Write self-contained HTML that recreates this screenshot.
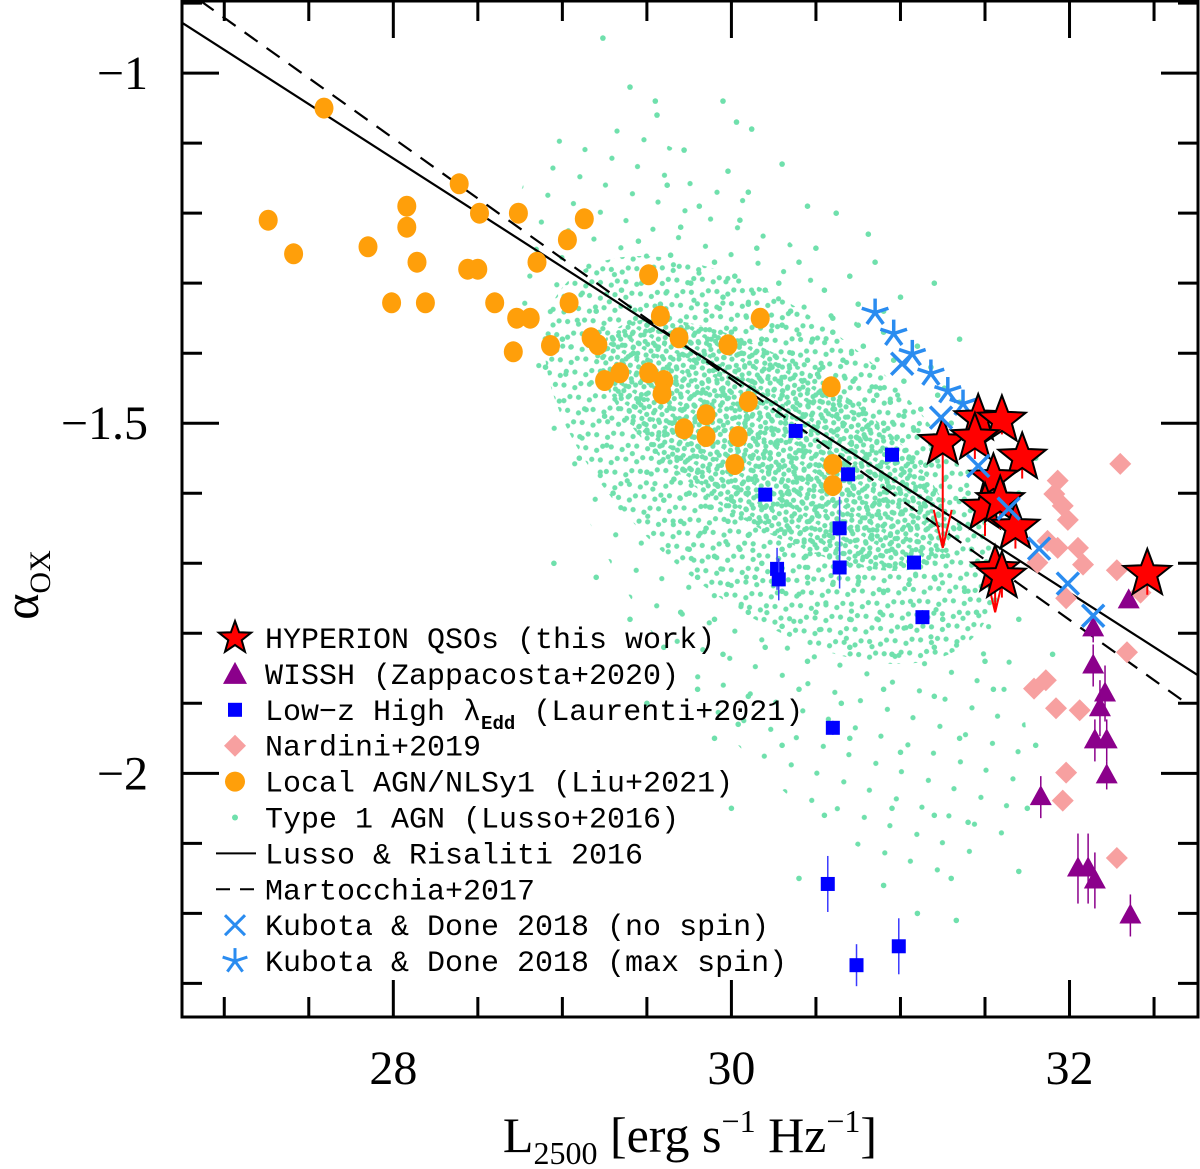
<!DOCTYPE html>
<html><head><meta charset="utf-8"><style>
html,body{margin:0;padding:0;background:#fff;}
svg{display:block;}
text{font-family:"Liberation Serif",serif;fill:#000;}
.leg{font-family:"Liberation Mono",monospace;font-size:30px;}
</style></head><body>
<svg id="chart" width="1200" height="1169" viewBox="0 0 1200 1169" xmlns="http://www.w3.org/2000/svg">
<defs>
<pattern id="densePat" patternUnits="userSpaceOnUse" width="15" height="14">
<circle cx="3" cy="3" r="2.6" fill="#6fe0ac"/><circle cx="10" cy="6" r="2.6" fill="#6fe0ac"/><circle cx="5" cy="11" r="2.6" fill="#6fe0ac"/><circle cx="13" cy="12.5" r="2.6" fill="#6fe0ac"/>
</pattern>
<pattern id="midPat" patternUnits="userSpaceOnUse" width="19" height="17">
<circle cx="4" cy="3" r="2.6" fill="#6fe0ac"/><circle cx="13" cy="8" r="2.6" fill="#6fe0ac"/><circle cx="6" cy="13" r="2.6" fill="#6fe0ac"/>
</pattern>
<pattern id="sparsePat" patternUnits="userSpaceOnUse" width="41" height="37">
<circle cx="5" cy="4" r="2.6" fill="#6fe0ac"/><circle cx="26" cy="22" r="2.6" fill="#6fe0ac"/>
</pattern>
</defs>
<g id="cloudG">
<ellipse cx="770" cy="500" rx="420" ry="170" transform="rotate(60 770 500)" fill="url(#sparsePat)"/>
<ellipse cx="770" cy="460" rx="270" ry="140" transform="rotate(40 770 460)" fill="url(#midPat)"/>
<ellipse cx="775" cy="445" rx="200" ry="80" transform="rotate(32 775 445)" fill="url(#densePat)"/>
</g>
<g id="lussoG"></g>
<g id="linesG"></g>
<g id="marksG"></g>
<g id="axesG"></g>
<g id="legendG"></g>
</svg>
<script>
// ---- axis ranges ----
const xDomain = [26.75, 32.76];
const yDomain = [-0.897, -2.348];
const xTicksMajor = [28, 30, 32];
const xTickLabels = ["28", "30", "32"];
const yTicksMajor = [-1, -1.5, -2];
const yTickLabels = ["\u22121", "\u22121.5", "\u22122"];

// ---- Type 1 AGN (Lusso+2016) ----
const lussoX = [29.24,30.12,30.03,29.98,29.56,29.72,29.55,29.95,30.3,29.4,30.1,29.81,29.62,29.7,30.05,30.45,30.5,30.62,30.81,29.45,
29.52,29.64,29.76,29.9,30.02,30.15,30.28,30.4,30.55,30.7,30.85,31.0,29.58,29.85,30.1,30.35,30.6,30.9,31.2,29.35,29.2,30.75,30.2,29.95,
29.3,29.42,29.5,29.62,29.7,29.78,29.86,29.93,30.0,30.06,30.12,30.18,30.24,30.3,30.36,30.42,30.48,30.54,30.6,30.66,30.72,30.78,30.84,30.9,30.96,31.02,31.1,31.18,31.26,31.35,30.15,30.45,30.75,29.95,30.55,30.88,
29.45,29.6,29.72,29.84,29.96,30.05,30.14,30.22,30.3,30.38,30.46,30.54,30.62,30.7,30.78,30.86,30.94,31.02,31.12,31.22,31.35,
29.5,29.65,29.78,29.9,30.0,30.08,30.16,30.24,30.32,30.4,30.5,30.58,30.66,30.74,30.82,30.9,30.98,31.08,31.18,31.3,31.45,
29.55,29.7,29.82,29.94,30.04,30.12,30.2,30.28,30.36,30.44,30.52,30.6,30.7,30.8,30.88,30.96,31.05,31.15,31.25,
29.5,29.66,29.8,29.92,30.02,30.12,30.22,30.32,30.42,30.52,30.62,30.72,30.82,30.92,31.02,31.14,31.26,31.4,
29.6,29.75,29.88,30.0,30.1,30.2,30.3,30.4,30.5,30.6,30.7,30.8,30.9,31.0,31.12,31.25,31.4,31.6,
29.7,29.85,29.98,30.1,30.22,30.34,30.46,30.58,30.7,30.82,30.94,31.06,31.2,31.35,
29.75,29.9,30.05,30.18,30.3,30.44,30.56,30.68,30.8,30.95,31.1,31.25,31.42,31.6,
29.8,29.98,30.14,30.3,30.45,30.6,30.75,30.9,31.05,31.2,31.38,31.55,
29.7,29.9,30.1,30.3,30.5,30.7,30.88,31.06,31.25,31.45,31.7,
29.6,29.95,30.2,30.45,30.7,30.95,31.2,31.5,31.9,
29.8,30.1,30.4,30.65,30.9,31.2,31.55,
29.9,30.3,30.7,31.0,31.35,31.8,
30.0,30.55,30.95,31.4,31.75,
30.4,30.9,31.3,31.7,31.1,31.33,
29.0,28.95,29.1,29.3,29.2,29.4,28.9,29.25,30.04,29.5,31.2,31.7,31.8,31.62,31.9,
30.27,30.57,30.13,30.87,30.43,30.69,30.33,30.01,30.51,30.79,30.23,30.61,30.37,30.93,30.47,30.19,30.71,30.29,30.83,30.09];
const lussoY = [-0.95,-1.08,-1.07,-1.14,-1.06,-1.11,-1.04,-1.04,-1.13,-1.02,-1.17,-1.19,-1.16,-1.22,-1.21,-1.19,-1.25,-1.20,-1.23,-1.24,
-1.28,-1.26,-1.30,-1.27,-1.29,-1.25,-1.30,-1.27,-1.31,-1.29,-1.27,-1.32,-1.33,-1.34,-1.33,-1.34,-1.35,-1.34,-1.30,-1.31,-1.34,-1.33,-1.31,-1.32,
-1.38,-1.40,-1.36,-1.42,-1.37,-1.41,-1.38,-1.43,-1.37,-1.40,-1.44,-1.38,-1.42,-1.36,-1.40,-1.44,-1.38,-1.42,-1.37,-1.41,-1.44,-1.39,-1.42,-1.37,-1.41,-1.44,-1.39,-1.42,-1.45,-1.38,-1.36,-1.41,-1.36,-1.45,-1.45,-1.45,
-1.47,-1.46,-1.48,-1.47,-1.46,-1.48,-1.47,-1.49,-1.46,-1.48,-1.47,-1.46,-1.49,-1.47,-1.48,-1.46,-1.47,-1.49,-1.48,-1.46,-1.47,
-1.51,-1.50,-1.52,-1.51,-1.53,-1.50,-1.52,-1.51,-1.50,-1.52,-1.51,-1.53,-1.50,-1.52,-1.51,-1.50,-1.52,-1.51,-1.53,-1.50,-1.52,
-1.54,-1.55,-1.54,-1.56,-1.54,-1.55,-1.54,-1.56,-1.55,-1.54,-1.56,-1.55,-1.54,-1.55,-1.56,-1.54,-1.55,-1.56,-1.54,
-1.57,-1.58,-1.57,-1.59,-1.57,-1.58,-1.57,-1.59,-1.58,-1.57,-1.58,-1.59,-1.57,-1.58,-1.57,-1.59,-1.58,-1.57,
-1.61,-1.60,-1.62,-1.61,-1.60,-1.62,-1.61,-1.60,-1.62,-1.61,-1.60,-1.62,-1.61,-1.60,-1.62,-1.61,-1.60,-1.62,
-1.64,-1.65,-1.64,-1.66,-1.64,-1.65,-1.64,-1.66,-1.65,-1.64,-1.66,-1.65,-1.64,-1.65,
-1.68,-1.69,-1.68,-1.70,-1.68,-1.69,-1.68,-1.70,-1.69,-1.68,-1.70,-1.69,-1.68,-1.69,
-1.72,-1.73,-1.72,-1.74,-1.72,-1.73,-1.72,-1.74,-1.73,-1.72,-1.74,-1.73,
-1.77,-1.78,-1.77,-1.79,-1.77,-1.78,-1.77,-1.79,-1.78,-1.77,-1.78,
-1.82,-1.83,-1.82,-1.84,-1.82,-1.83,-1.82,-1.84,-1.83,
-1.88,-1.89,-1.88,-1.90,-1.88,-1.89,-1.88,
-1.95,-1.96,-1.95,-1.97,-1.95,-1.96,
-2.05,-2.06,-2.05,-2.07,-2.05,
-2.15,-2.16,-2.15,-2.14,-2.20,-2.21,
-1.38,-1.70,-1.55,-1.60,-1.72,-1.78,-1.42,-1.49,-1.93,-1.90,-2.06,-1.60,-1.55,-1.72,-1.68,
-1.53,-1.59,-1.45,-1.63,-1.49,-1.56,-1.60,-1.52,-1.43,-1.52,-1.55,-1.48,-1.57,-1.59,-1.58,-1.60,-1.53,-1.44,-1.66,-1.49];

// ---- Local AGN/NLSy1 (Liu+2021) ----
const liuX = [27.59,27.26,27.41,27.85,28.08,28.08,28.14,27.99,28.19,28.39,28.44,28.50,28.51,28.74,28.60,28.85,28.73,28.81,28.71,28.93,29.03,29.13,29.04,29.17,29.21,29.25,29.34,29.51,29.58,29.51,29.60,29.59,29.69,29.98,30.17,29.72,29.85,29.85,30.04,30.02,30.10,30.59,30.60,30.60];
const liuY = [-1.050,-1.210,-1.258,-1.248,-1.190,-1.220,-1.270,-1.328,-1.328,-1.158,-1.280,-1.280,-1.200,-1.200,-1.328,-1.270,-1.350,-1.350,-1.398,-1.389,-1.238,-1.208,-1.328,-1.378,-1.388,-1.439,-1.428,-1.288,-1.347,-1.428,-1.439,-1.458,-1.378,-1.388,-1.350,-1.508,-1.488,-1.519,-1.519,-1.559,-1.469,-1.448,-1.559,-1.589];

// ---- Low-z high Eddington (Laurenti+2021) ----
const laurX = [30.38,30.95,30.69,30.20,30.64,30.27,30.28,30.64,31.08,31.13,30.60,30.57,30.99,30.74];
const laurY = [-1.511,-1.545,-1.573,-1.602,-1.650,-1.708,-1.723,-1.706,-1.699,-1.777,-1.935,-2.158,-2.247,-2.274];
const laurErr = [0.01,0.01,0.01,0.01,0.045,0.03,0.03,0.03,0.01,0.01,0.01,0.04,0.04,0.03];

// ---- Nardini+2019 ----
const nardX = [32.30,31.93,31.91,31.96,31.99,31.87,31.93,32.05,32.08,31.81,32.28,31.98,32.42,31.79,31.86,31.92,32.06,31.98,31.96,32.28,32.34];
const nardY = [-1.558,-1.582,-1.601,-1.618,-1.638,-1.668,-1.678,-1.678,-1.702,-1.699,-1.710,-1.750,-1.742,-1.879,-1.867,-1.907,-1.910,-1.999,-2.039,-2.121,-1.827];

// ---- WISSH (Zappacosta+2020) ----
const wisshX = [32.35,32.14,32.14,32.21,32.18,32.22,32.15,32.22,31.83,32.05,32.11,32.15,32.36];
const wisshY = [-1.753,-1.793,-1.846,-1.886,-1.907,-1.953,-1.953,-2.003,-2.034,-2.136,-2.136,-2.153,-2.203];
const wisshErr = [0.01,0.02,0.03,0.04,0.04,0.03,0.03,0.02,0.03,0.05,0.05,0.04,0.03];

// ---- HYPERION QSOs ----
const hypX = [31.25,31.46,31.60,31.44,31.72,31.55,31.50,31.59,31.68,31.56,31.60,32.46];
const hypY = [-1.528,-1.494,-1.496,-1.521,-1.549,-1.579,-1.621,-1.611,-1.649,-1.710,-1.719,-1.715];
const hypUpper = [0.15,0,0,0,0,0,0,0,0,0.06,0,0];
const hypErr = [0,0.02,0.02,0.03,0.03,0.02,0.04,0.04,0.03,0,0.03,0.03];

// ---- Kubota & Done 2018 ----
const kdNoSpinX = [31.01,31.24,31.46,31.64,31.82,31.99,32.14];
const kdNoSpinY = [-1.415,-1.492,-1.561,-1.622,-1.679,-1.729,-1.775];
const kdMaxSpinX = [30.85,30.96,31.07,31.18,31.28,31.37,31.47];
const kdMaxSpinY = [-1.342,-1.372,-1.401,-1.429,-1.454,-1.472,-1.492];

// ---- Relations ----
const lussoRelX = [26.75, 32.76];
const lussoRelY = [-0.928, -1.860];
const martRelX = [26.86, 32.71];
const martRelY = [-0.897, -1.903];

// ===== drawing =====
const NS = "http://www.w3.org/2000/svg";
const PL = 182, PR = 1198, PT = 1, PB = 1017;
function sx(v){ return PL + (v - xDomain[0]) / (xDomain[1] - xDomain[0]) * (PR - PL); }
function sy(v){ return PT + (v - yDomain[0]) / (yDomain[1] - yDomain[0]) * (PB - PT); }
function mk(tag, attrs, parent){
  const e = document.createElementNS(NS, tag);
  for (const k in attrs) e.setAttribute(k, attrs[k]);
  parent.appendChild(e);
  return e;
}
function starPts(cx, cy, R, r){
  let p = [];
  for (let i = 0; i < 10; i++){
    const a = -Math.PI/2 + i*Math.PI/5;
    const rr = i%2 ? r : R;
    p.push((cx + rr*Math.cos(a)).toFixed(1) + "," + (cy + rr*Math.sin(a)).toFixed(1));
  }
  return p.join(" ");
}
function asterisk(g, cx, cy, R, color, w){
  for (let i = 0; i < 5; i++){
    const a = -Math.PI/2 + i*2*Math.PI/5;
    const l = mk("line", {x1:cx, y1:cy, x2:cx+R*Math.cos(a), y2:cy+R*Math.sin(a), stroke:color, "stroke-width":w}, g);
    
    
  }
}
function xmark(g, cx, cy, R, color, w){
  return mk("path", {d:`M${cx-R},${cy-R}L${cx+R},${cy+R}M${cx-R},${cy+R}L${cx+R},${cy-R}`, stroke:color, "stroke-width":w, fill:"none"}, g);
}

const lussoG = document.getElementById("lussoG");
for (let i = 0; i < lussoX.length; i++){
  const c = mk("circle", {cx:sx(lussoX[i]).toFixed(1), cy:sy(lussoY[i]).toFixed(1), r:2.8, fill:"#6fe0ac"}, lussoG);
  
  
}

const linesG = document.getElementById("linesG");
const l1 = mk("line", {x1:sx(lussoRelX[0]), y1:sy(lussoRelY[0]), x2:sx(lussoRelX[1]), y2:sy(lussoRelY[1]), stroke:"#000", "stroke-width":2.2}, linesG);


const l2 = mk("line", {x1:sx(martRelX[0]), y1:sy(martRelY[0]), x2:sx(martRelX[1]), y2:sy(martRelY[1]), stroke:"#000", "stroke-width":2.2, "stroke-dasharray":"16,11"}, linesG);



const marksG = document.getElementById("marksG");
for (let i = 0; i < liuX.length; i++){
  const e = mk("ellipse", {cx:sx(liuX[i]).toFixed(1), cy:sy(liuY[i]).toFixed(1), rx:9.5, ry:10.5, fill:"#ff9f0a"}, marksG);
  
  
}
for (let i = 0; i < laurX.length; i++){
  const cx = sx(laurX[i]), cy = sy(laurY[i]);
  const eb = mk("line", {x1:cx, y1:sy(laurY[i]+laurErr[i]), x2:cx, y2:sy(laurY[i]-laurErr[i]), stroke:"#3a3aff", "stroke-width":1.5}, marksG);
  
  
  const r = mk("rect", {x:cx-7, y:cy-7, width:14, height:14, fill:"#0000ff"}, marksG);
  
  
}
for (let i = 0; i < nardX.length; i++){
  const cx = sx(nardX[i]), cy = sy(nardY[i]);
  const d = mk("polygon", {points:`${cx},${cy-11} ${cx+11},${cy} ${cx},${cy+11} ${cx-11},${cy}`, fill:"#f7a0a0"}, marksG);
  
  
}
for (let i = 0; i < wisshX.length; i++){
  const cx = sx(wisshX[i]), cy = sy(wisshY[i]);
  const eb = mk("line", {x1:cx, y1:sy(wisshY[i]+wisshErr[i]), x2:cx, y2:sy(wisshY[i]-wisshErr[i]), stroke:"#8b008b", "stroke-width":1.5}, marksG);
  
  
  const t = mk("polygon", {points:`${cx},${cy-12} ${cx+11},${cy+8} ${cx-11},${cy+8}`, fill:"#8b008b"}, marksG);
  
  
}
for (let i = 0; i < kdMaxSpinX.length; i++){
  asterisk(marksG, sx(kdMaxSpinX[i]), sy(kdMaxSpinY[i]), 14, "#2a8cf0", 3.5);
}
for (let i = 0; i < hypX.length; i++){
  const cx = sx(hypX[i]), cy = sy(hypY[i]);
  if (hypUpper[i] > 0){
    const ay = sy(hypY[i] - hypUpper[i]);
    const a = mk("path", {d:`M${cx},${cy}L${cx},${ay}M${cx-9},${ay-38}L${cx},${ay}L${cx+9},${ay-38}`, stroke:"#ff0000", "stroke-width":2, fill:"none"}, marksG);
    
    
  } else if (hypErr[i] > 0){
    const eb = mk("line", {x1:cx, y1:sy(hypY[i]+hypErr[i]), x2:cx, y2:sy(hypY[i]-hypErr[i]), stroke:"#ff0000", "stroke-width":2}, marksG);
    
    
  }
  const s = mk("polygon", {points:starPts(cx, cy, 25, 10.5), fill:"#ff0000", stroke:"#000", "stroke-width":2}, marksG);
  
  
}
for (let i = 0; i < kdNoSpinX.length; i++){
  const p = xmark(marksG, sx(kdNoSpinX[i]), sy(kdNoSpinY[i]), 11, "#2a8cf0", 3.5);
  
  
}

// axes
const axesG = document.getElementById("axesG");
const frame = mk("rect", {x:PL, y:PT, width:PR-PL, height:PB-PT, fill:"none", stroke:"#000", "stroke-width":3}, axesG);


for (let v = 27; v <= 32.6; v += 0.5){
  const isMaj = xTicksMajor.some(m => Math.abs(m - v) < 1e-6);
  const L = isMaj ? 37 : 20, x = sx(v);
  const t = mk("path", {d:`M${x},${PB}L${x},${PB-L}M${x},${PT}L${x},${PT+L}`, stroke:"#000", "stroke-width":3}, axesG);
  
  
}
for (let k = 9; k <= 23; k++){
  const v = -k/10;
  const isMaj = yTicksMajor.some(m => Math.abs(m - v) < 1e-6);
  const L = isMaj ? 37 : 20, y = sy(v);
  if (y < PT+2 || y > PB-2) continue;
  const t = mk("path", {d:`M${PL},${y}L${PL+L},${y}M${PR},${y}L${PR-L},${y}`, stroke:"#000", "stroke-width":3}, axesG);
  
  
}
for (let i = 0; i < xTicksMajor.length; i++){
  const t = mk("text", {x:sx(xTicksMajor[i]), y:1084, "font-size":48, "text-anchor":"middle"}, axesG);
  t.textContent = xTickLabels[i];
  
  
}
for (let i = 0; i < yTicksMajor.length; i++){
  const t = mk("text", {x:148, y:sy(yTicksMajor[i])+16, "font-size":48, "text-anchor":"end"}, axesG);
  t.textContent = yTickLabels[i];
  
  
}
const xt = mk("text", {x:690, y:1152, "font-size":50, "text-anchor":"middle"}, axesG);


xt.innerHTML = 'L<tspan font-size="32" dy="12">2500</tspan><tspan dy="-12"> [erg s</tspan><tspan font-size="32" dy="-20">\u22121</tspan><tspan dy="20"> Hz</tspan><tspan font-size="32" dy="-20">\u22121</tspan><tspan dy="20">]</tspan>';
const yt = mk("text", {x:0, y:0, "font-size":50, "text-anchor":"middle", transform:"translate(38,585) rotate(-90)"}, axesG);


yt.innerHTML = '\u03b1<tspan font-size="30" dy="12">OX</tspan>';

// legend
const legendG = document.getElementById("legendG");
const legLabels = ["HYPERION QSOs (this work)","WISSH (Zappacosta+2020)","Low\u2212z High \u03bb","Nardini+2019","Local AGN/NLSy1 (Liu+2021)","Type 1 AGN (Lusso+2016)","Lusso & Risaliti 2016","Martocchia+2017","Kubota & Done 2018 (no spin)","Kubota & Done 2018 (max spin)"];
const legNames = ["hyperion","wissh","laurenti","nardini","liu","lusso-agn","lusso-risaliti","martocchia","kubota-no-spin","kubota-max-spin"];
for (let i = 0; i < legLabels.length; i++){
  const cy = 638 + i*35.9, cx = 235;
  const g = mk("g", {}, legendG);
  
  
  if (i === 0) mk("polygon", {points:starPts(cx, cy, 17, 7), fill:"#ff0000", stroke:"#000", "stroke-width":2}, g);
  if (i === 1) mk("polygon", {points:`${cx},${cy-12} ${cx+12},${cy+10} ${cx-12},${cy+10}`, fill:"#8b008b"}, g);
  if (i === 2) mk("rect", {x:cx-7, y:cy-7, width:14, height:14, fill:"#0000ff"}, g);
  if (i === 3) mk("polygon", {points:`${cx},${cy-11} ${cx+11},${cy} ${cx},${cy+11} ${cx-11},${cy}`, fill:"#f7a0a0"}, g);
  if (i === 4) mk("circle", {cx:cx, cy:cy, r:10, fill:"#ff9f0a"}, g);
  if (i === 5) mk("circle", {cx:cx, cy:cy, r:3, fill:"#6fe0ac"}, g);
  if (i === 6) mk("line", {x1:216, y1:cy, x2:256, y2:cy, stroke:"#000", "stroke-width":2}, g);
  if (i === 7) mk("line", {x1:216, y1:cy, x2:256, y2:cy, stroke:"#000", "stroke-width":2, "stroke-dasharray":"14,10"}, g);
  if (i === 8) xmark(g, cx, cy, 10, "#2a8cf0", 3);
  if (i === 9) asterisk(g, cx, cy, 13, "#2a8cf0", 3);
  const t = mk("text", {x:265, y:cy+10, class:"leg"}, g);
  t.textContent = legLabels[i];
  if (i === 2){
    const s = document.createElementNS(NS, "tspan");
    s.setAttribute("font-size", "19"); s.setAttribute("dy", "9"); s.setAttribute("font-weight", "bold");
    s.textContent = "Edd";
    t.appendChild(s);
    const s2 = document.createElementNS(NS, "tspan");
    s2.setAttribute("dy", "-9");
    s2.textContent = " (Laurenti+2021)";
    t.appendChild(s2);
  }
}
</script>
</body></html>
